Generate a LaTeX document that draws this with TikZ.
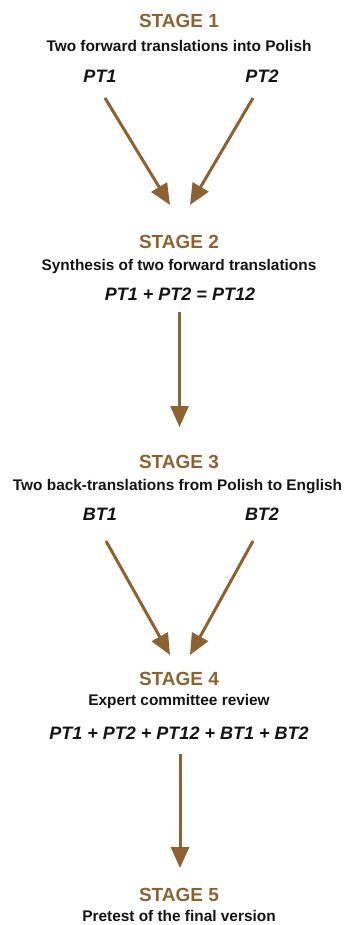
\documentclass[tikz,border=0pt]{standalone}
\usepackage{fontspec}
\setmainfont{Liberation Sans}
\usetikzlibrary{arrows.meta}
\definecolor{bronze}{RGB}{139,99,50}
\definecolor{ink}{RGB}{20,20,20}
\begin{document}
\begin{tikzpicture}[x=1pt,y=-1pt,
  stagetitle/.style={anchor=base,inner sep=0pt,text=bronze,font=\fontsize{19}{19}\selectfont\bfseries},
  subtitle/.style={anchor=base,inner sep=0pt,text=ink,font=\fontsize{15.4}{15.4}\selectfont\bfseries},
  formula/.style={anchor=base,inner sep=0pt,text=ink,font=\fontsize{18}{18}\selectfont\bfseries\itshape},
  flow/.style={draw=bronze,line width=3pt,-{Triangle[length=21pt,width=18pt]}}]
\useasboundingbox (0,0) rectangle (348,925);

% Stage 1
\node[stagetitle] (s1) at (179,28) {STAGE 1};
\node[subtitle] (s1d) at (179,52) {Two forward translations into Polish};
\node[formula] (pt1) at (100,83) {PT1};
\node[formula] (pt2) at (262,83) {PT2};

% Stage 2
\node[stagetitle] (s2) at (179,248) {STAGE 2};
\node[subtitle] (s2d) at (179,270) {Synthesis of two forward translations};
\node[formula] (pt12) at (180,300) {PT1 + PT2 = PT12};

% Stage 3
\node[stagetitle] (s3) at (179,468) {STAGE 3};
\node[subtitle] (s3d) at (177.5,490) {Two back-translations from Polish to English};
\node[formula] (bt1) at (100,520) {BT1};
\node[formula] (bt2) at (262,520) {BT2};

% Stage 4
\node[stagetitle] (s4) at (179,685) {STAGE 4};
\node[subtitle] (s4d) at (179,705) {Expert committee review};
\node[formula] (sum) at (179,739) {PT1 + PT2 + PT12 + BT1 + BT2};

% Stage 5
\node[stagetitle] (s5) at (179,901) {STAGE 5};
\node[subtitle] (s5d) at (179,921) {Pretest of the final version};

% Arrow end points
\coordinate (a1) at (105,98);  \coordinate (a1t) at (170,205);
\coordinate (a2) at (253,98);  \coordinate (a2t) at (190,205);
\coordinate (a3) at (179.5,312); \coordinate (a3t) at (179.5,427);
\coordinate (a4) at (106,541); \coordinate (a4t) at (170,655);
\coordinate (a5) at (253,541); \coordinate (a5t) at (190,655);
\coordinate (a6) at (180,754); \coordinate (a6t) at (180,868);

\draw[flow] (a1) -- (a1t);
\draw[flow] (a2) -- (a2t);
\draw[flow] (a3) -- (a3t);
\draw[flow] (a4) -- (a4t);
\draw[flow] (a5) -- (a5t);
\draw[flow] (a6) -- (a6t);
\end{tikzpicture}
\end{document}
